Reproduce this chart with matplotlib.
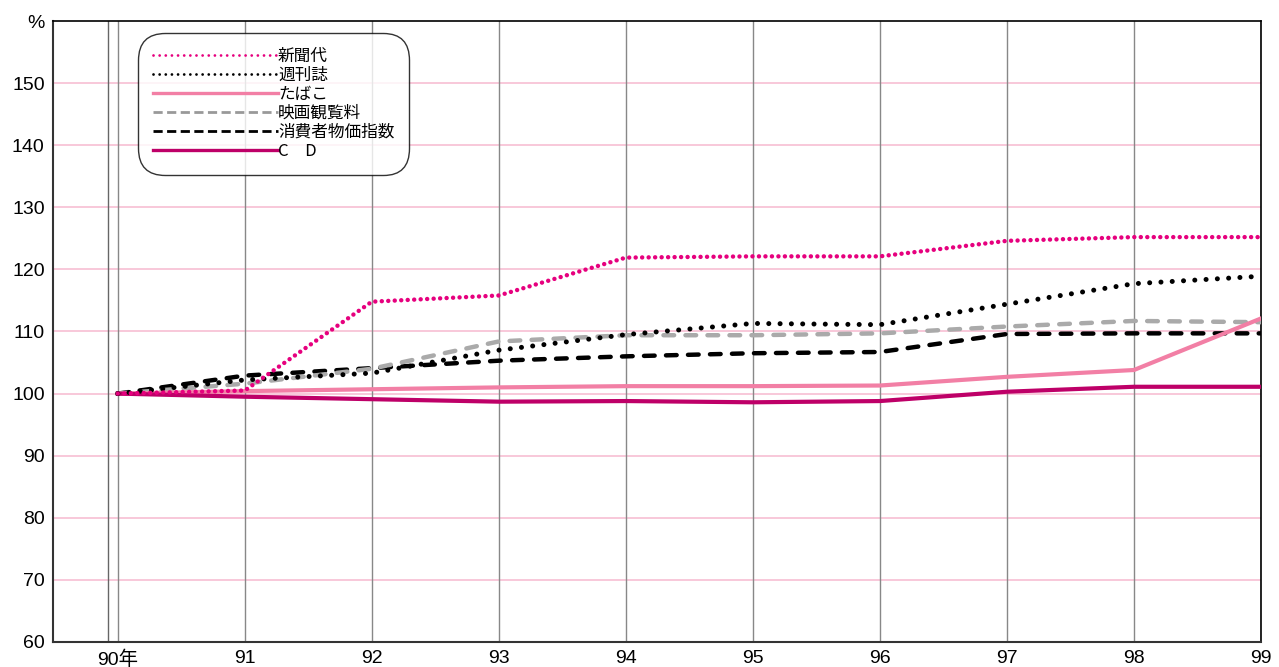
import numpy as np
import matplotlib.pyplot as plt
from matplotlib.lines import Line2D

plt.rcParams["font.family"] = ["Liberation Sans", "Noto Sans CJK JP", "DejaVu Sans"]

years = [90, 91, 92, 93, 94, 95, 96, 97, 98, 99]
year_labels = ["90年", "91", "92", "93", "94", "95", "96", "97", "98", "99"]

shinbun = [100, 100.5, 114.8, 115.8, 121.9, 122.1, 122.1, 124.6, 125.2, 125.2]
shukanshi = [100, 102.2, 103.3, 107.0, 109.5, 111.3, 111.1, 114.4, 117.7, 118.9]
tabako = [100, 100.4, 100.7, 101.0, 101.2, 101.2, 101.3, 102.7, 103.8, 112.1]
eiga = [100, 101.6, 104.0, 108.4, 109.4, 109.4, 109.7, 110.8, 111.7, 111.5]
cpi = [100, 102.9, 104.1, 105.3, 106.0, 106.5, 106.7, 109.6, 109.7, 109.7]
cd = [100, 99.5, 99.1, 98.7, 98.8, 98.6, 98.8, 100.3, 101.1, 101.1]

series_names = ["新聞代", "週刊誌", "たばこ", "映画観覧料", "消費者物価指数", "C\u3000D"]

MAGENTA = "#e6007e"
PINK = "#f27fa5"
CD_COL = "#be0068"
GRAY = "#aaaaaa"

fig = plt.figure(figsize=(12.79, 6.67), dpi=100)
ax = fig.add_axes([53 / 1279, 25 / 667, (1261 - 53) / 1279, (642 - 21) / 667])

# grid
for v in range(70, 160, 10):
    ax.axhline(v, color="#f7bfd3", lw=1.2, zorder=1)
for y in years:
    ax.axvline(y, color="#888888", lw=1.0, zorder=1)
ax.axvline(89.92, color="#666666", lw=1.0, zorder=1)

# series
ax.plot(years, cpi, color="black", lw=3.2, dashes=(2.4, 2.55),
        dash_capstyle="round", zorder=3)
ax.plot(years, eiga, color=GRAY, lw=3.2, dashes=(2.4, 2.55),
        dash_capstyle="round", zorder=3)
ax.plot(years, shukanshi, color="black", lw=3.6, dashes=(0.01, 2.25),
        dash_capstyle="round", zorder=4)
ax.plot(years, tabako, color=PINK, lw=3.0, zorder=3)
ax.plot(years, cd, color=CD_COL, lw=3.0, zorder=3)
ax.plot(years, shinbun, color=MAGENTA, lw=3.2, dashes=(0.01, 1.45),
        dash_capstyle="round", zorder=5)

ax.set_xlim(89.49, 99.0)
ax.set_ylim(60, 160)
ax.set_xticks(years)
ax.set_xticklabels(year_labels)
yt = list(range(60, 170, 10))
ax.set_yticks(yt)
ax.set_yticklabels([str(v) for v in yt[:-1]] + ["%"])
ax.tick_params(length=0, labelsize=14, pad=6, colors="black")

for s in ["left", "bottom"]:
    ax.spines[s].set_color("#333333")
    ax.spines[s].set_linewidth(1.5)
for s in ["top", "right"]:
    ax.spines[s].set_color("black")
    ax.spines[s].set_linewidth(1.2)

# legend
handles = [
    Line2D([], [], color=MAGENTA, lw=2.0, dashes=(0.01, 2.2), dash_capstyle="round"),
    Line2D([], [], color="black", lw=2.0, dashes=(0.01, 2.2), dash_capstyle="round"),
    Line2D([], [], color=PINK, lw=2.4),
    Line2D([], [], color="#999999", lw=2.0, dashes=(3.3, 1.6)),
    Line2D([], [], color="black", lw=2.0, dashes=(3.3, 1.6)),
    Line2D([], [], color=CD_COL, lw=2.4),
]
leg = ax.legend(handles, series_names, loc="upper left",
                bbox_to_anchor=(0.0704, 0.9807), handlelength=7.5, handletextpad=0.0,
                labelspacing=0.12, fontsize=12, frameon=True, fancybox=True,
                borderpad=0.9, borderaxespad=0.0)
frame = leg.get_frame()
frame.set_edgecolor("black")
frame.set_linewidth(1.0)
frame.set_boxstyle("round,pad=0.0,rounding_size=1.6")
for t in leg.get_texts():
    t.set_family(["Noto Sans CJK JP", "DejaVu Sans"])
leg.set_zorder(10)

fig.savefig("out.png", dpi=100)
